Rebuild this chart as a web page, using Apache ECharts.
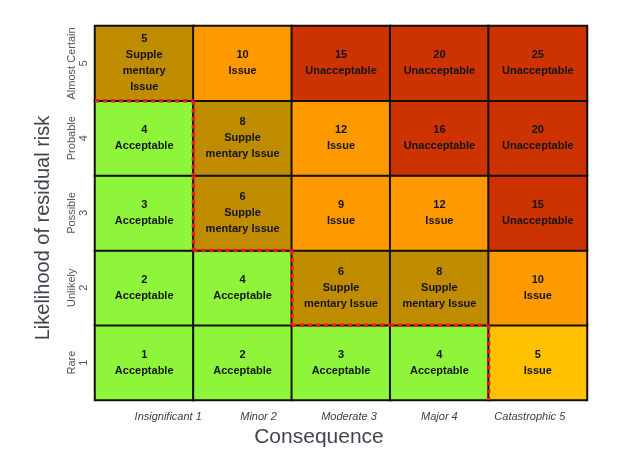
<!DOCTYPE html>
<html><head><meta charset="utf-8">
<script src="https://cdn.jsdelivr.net/npm/echarts@6/dist/echarts.min.js"></script>
<style>html,body{margin:0;padding:0;background:#fff}#c{width:640px;height:462px}</style>
</head><body><div id="c"></div>
<script>
var consequence = ['Insignificant 1','Minor 2','Moderate 3','Major 4','Catastrophic 5'];
var likelihood = ['Rare\n1','Unlikely\n2','Possible\n3','Probable\n4','Almost Certain\n5'];
// scores[row = likelihood index][col = consequence index]
var scores = [
  [1, 2, 3, 4, 5],
  [2, 4, 6, 8, 10],
  [3, 6, 9, 12, 15],
  [4, 8, 12, 16, 20],
  [5, 10, 15, 20, 25]
];
var ratings = [
  ['Acceptable','Acceptable','Acceptable','Acceptable','Issue'],
  ['Acceptable','Acceptable','Supple\nmentary Issue','Supple\nmentary Issue','Issue'],
  ['Acceptable','Supple\nmentary Issue','Issue','Issue','Unacceptable'],
  ['Acceptable','Supple\nmentary Issue','Issue','Unacceptable','Unacceptable'],
  ['Supple\nmentary\nIssue','Issue','Unacceptable','Unacceptable','Unacceptable']
];
var zones = [
  ['A','A','A','A','L'],
  ['A','A','S','S','I'],
  ['A','S','I','I','U'],
  ['A','S','I','U','U'],
  ['S','I','U','U','U']
];
var zoneColors = {A:'#8ff53a', S:'#bf8c00', I:'#ff9900', L:'#ffc000', U:'#cc3300'};

var data = [];
for (var r = 0; r < 5; r++) {
  for (var c = 0; c < 5; c++) {
    data.push({
      value: [c, r, scores[r][c]],
      rating: ratings[r][c],
      itemStyle: {color: zoneColors[zones[r][c]]}
    });
  }
}

var chart = echarts.init(document.getElementById('c'));
chart.setOption({
  animation: false,
  grid: [
    {left: 95, right: 53, top: 26, bottom: 62, show: false},
    {left: 123, right: 65, top: 400, height: 1, show: false}
  ],
  xAxis: [
    {type: 'category', gridIndex: 0, data: consequence, axisLine: {show: false},
     axisTick: {show: false}, axisLabel: {show: false}, splitLine: {show: false}},
    {type: 'category', gridIndex: 1, data: consequence, axisLine: {show: false},
     axisTick: {show: false}, splitLine: {show: false},
     axisLabel: {interval: 0, margin: 10, fontFamily: 'Liberation Sans', fontSize: 11, fontStyle: 'italic', color: '#404040'},
     name: 'Consequence', nameLocation: 'middle', nameGap: 26,
     nameTextStyle: {fontFamily: 'Liberation Sans', fontSize: 21, color: '#3f4650', padding: [0, 60, 0, 0]}}
  ],
  yAxis: [
    {type: 'category', gridIndex: 0, data: likelihood, axisLine: {show: false},
     axisTick: {show: false}, splitLine: {show: false},
     axisLabel: {interval: 0, rotate: 90, margin: 5, fontFamily: 'Liberation Sans', fontSize: 11, color: '#555', lineHeight: 12, align: 'center'},
     name: 'Likelihood of residual risk', nameLocation: 'middle', nameGap: 42, nameRotate: 90,
     nameTextStyle: {fontFamily: 'Liberation Sans', fontSize: 20, color: '#3f4650', padding: [0, 30, 0, 0]}},
    {type: 'value', gridIndex: 1, show: false}
  ],
  series: [
    {
      type: 'heatmap', xAxisIndex: 0, yAxisIndex: 0, data: data,
      itemStyle: {borderColor: '#111', borderWidth: 2},
      label: {
        show: true, fontFamily: 'Liberation Sans', fontWeight: 'bold', fontSize: 11,
        lineHeight: 16, color: '#141414',
        formatter: function (p) { return p.value[2] + '\n' + p.data.rating; }
      },
      emphasis: {disabled: true}
    },
    {
      type: 'custom', xAxisIndex: 0, yAxisIndex: 0, z: 10, silent: true,
      data: data.map(function (d) { return d.value; }),
      renderItem: function (params, api) {
        var c = api.value(0), r = api.value(1);
        if (zones[r][c] !== 'A') return null;
        var center = api.coord([c, r]);
        var size = api.size([1, 1]);
        var x0 = center[0] - size[0] / 2, x1 = center[0] + size[0] / 2;
        var y0 = center[1] - size[1] / 2, y1 = center[1] + size[1] / 2;
        var style = {stroke: '#f21a1a', lineWidth: 3.5, lineDash: [4, 4]};
        var children = [];
        if (r + 1 < 5 && zones[r + 1][c] !== 'A') {
          children.push({type: 'line', shape: {x1: x0, y1: y0, x2: x1, y2: y0}, style: style});
        }
        if (c + 1 < 5 && zones[r][c + 1] !== 'A') {
          children.push({type: 'line', shape: {x1: x1, y1: y0, x2: x1, y2: y1}, style: style});
        }
        return {type: 'group', children: children};
      }
    }
  ]
});
</script></body></html>
